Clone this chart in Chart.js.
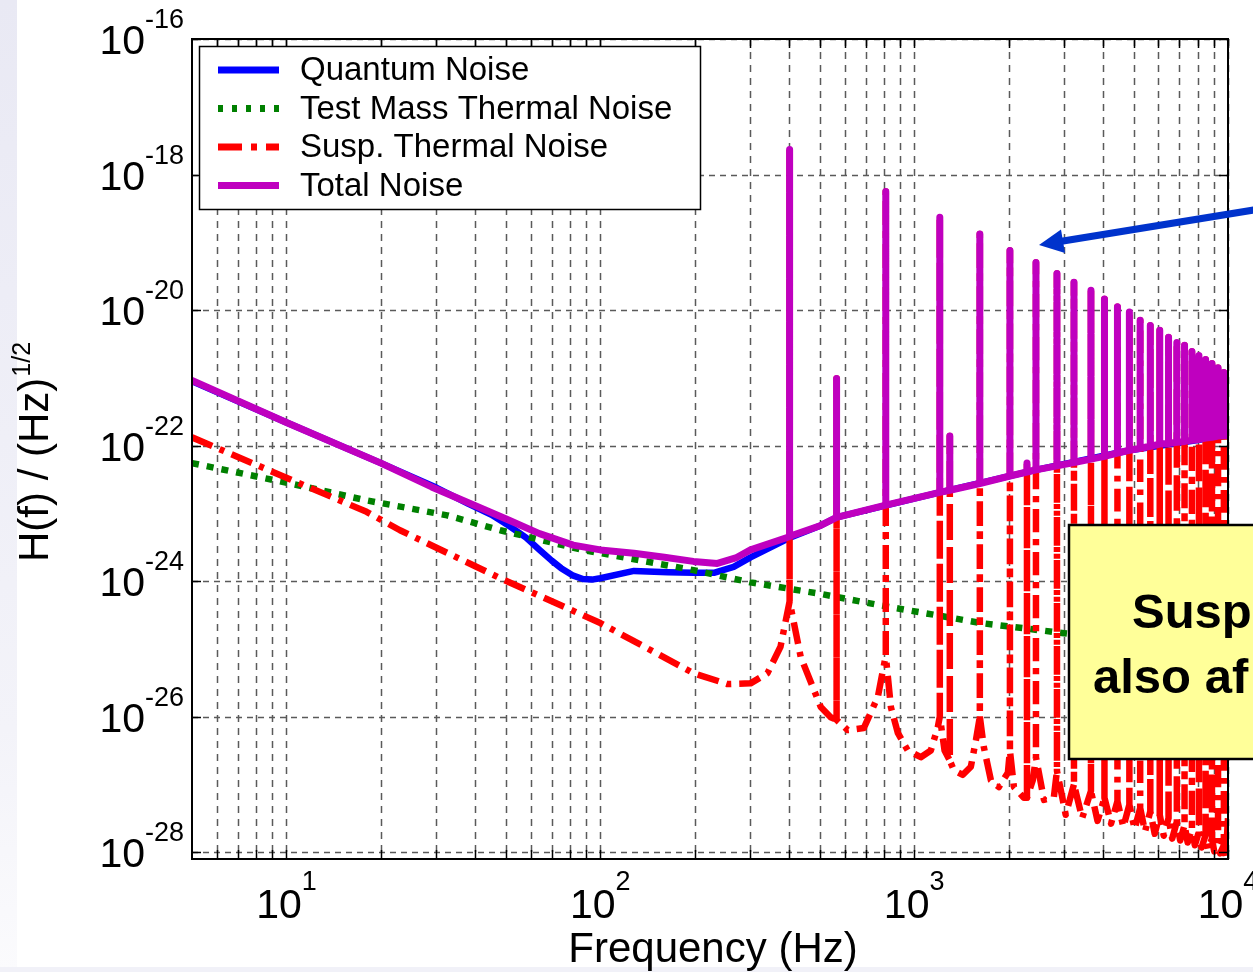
<!DOCTYPE html>
<html>
<head>
<meta charset="utf-8">
<script src="https://cdn.jsdelivr.net/npm/chart.js@4.4.1/dist/chart.umd.min.js"></script>
<style>
  html, body { margin: 0; padding: 0; background: #fff; overflow: hidden; }
  #wrap { position: relative; width: 1253px; height: 972px; }
  #band { position: absolute; left: 0; top: 0; width: 17px; height: 972px;
          background: linear-gradient(to bottom, #e9e9f4, #f3f3f9 75%, #fbfbfd); }
  #strip { position: absolute; left: 0; bottom: 0; width: 1253px; height: 5px; background: #f1f1f8; }
  canvas { position: absolute; left: 0; top: 0; }
</style>
</head>
<body>
<div id="wrap">
  <div id="band"></div>
  <div id="strip"></div>
  <canvas id="noiseChart" width="1253" height="972"></canvas>
</div>
<script>
// values (Hz, strain / sqrt(Hz))
const quantumFreq = [5, 10, 20, 30, 38, 45, 51, 58, 64, 70, 75, 82, 88, 94, 100, 128, 164, 198, 230, 266, 301, 398, 504, 566, 1207, 2444, 4875, 10000];
const quantumVal = [8.91e-22, 2.19e-22, 5.50e-23, 2.40e-23, 1.38e-23, 9.50e-24, 6.61e-24, 4.37e-24, 2.88e-24, 2.00e-24, 1.55e-24,
  1.20e-24, 1.07e-24, 1.05e-24, 1.10e-24, 1.41e-24, 1.35e-24,
  1.32e-24, 1.32e-24, 1.62e-24, 2.24e-24, 4.27e-24, 6.61e-24, 8.71e-24, 2.04e-23, 4.37e-23, 8.51e-23, 1.41e-22];

const testMassFreq = [5, 10.3, 18, 32.5, 48, 88, 198, 301, 504, 783, 1632, 3000, 10000];
const testMassVal = [5.50e-23, 2.75e-23, 1.55e-23, 9.33e-24, 5.62e-24, 2.88e-24, 1.45e-24, 9.55e-25, 6.46e-25, 4.37e-25, 2.40e-25, 1.70e-25, 9.55e-26];

// suspension thermal noise away from the resonance tips
const suspFreq = [5, 10.3, 18, 23, 48, 100, 198, 254, 301, 341, 375,
  401, 435, 504, 542, 566, 614, 691, 766, 812,
  843, 887, 954, 1050, 1130, 1189, 1207,
  1250, 1299, 1338, 1429, 1516, 1573, 1619,
  1667, 1756, 1862, 1989, 2019,
  2079, 2237, 2288, 2388, 2444,
  2592, 2787, 2851,
  3040, 3230, 3430, 3659, 3840, 4040, 4240, 4444, 4640, 4850,
  5040, 5250, 5440, 5655, 5840, 6060, 6240, 6465, 6640, 6870,
  7040, 7270, 7440, 7675, 7840, 8080, 8240, 8485, 8640, 8890,
  9040, 9295, 9440, 9700, 9840, 10000];
const suspVal = [1.32e-22, 3.16e-23, 1.05e-23, 5.62e-24, 1.10e-24, 2.40e-25, 4.37e-26, 3.02e-26, 3.09e-26, 4.37e-26, 1.07e-25,
  5.01e-25, 7.59e-26, 1.38e-26, 9.77e-27, 8.91e-27, 6.31e-27, 6.76e-27, 1.95e-26, 7.94e-26,
  1.38e-26, 5.75e-27, 3.16e-27, 2.51e-27, 3.16e-27, 6.92e-27, 1.00e-26,
  3.16e-27, 2.24e-27, 1.62e-27, 1.38e-27, 1.82e-27, 4.47e-27, 1.00e-26,
  3.55e-27, 1.15e-27, 9.12e-28, 1.48e-27, 3.16e-27,
  9.12e-28, 6.31e-28, 6.31e-28, 1.15e-27, 2.51e-27,
  5.89e-28, 6.46e-28, 1.58e-27,
  3.55e-28, 1.00e-27, 3.16e-28, 7.94e-28, 2.88e-28, 6.31e-28, 2.63e-28, 5.62e-28, 2.34e-28, 5.01e-28,
  2.19e-28, 4.47e-28, 2.00e-28, 3.98e-28, 1.86e-28, 3.55e-28, 1.74e-28, 3.16e-28, 1.58e-28, 2.82e-28,
  1.48e-28, 2.51e-28, 1.38e-28, 2.24e-28, 1.26e-28, 2.00e-28, 1.17e-28, 1.78e-28, 1.10e-28, 1.58e-28,
  1.02e-28, 1.41e-28, 9.55e-29, 1.26e-28, 8.71e-29, 3.16e-28];

// total noise floor (spike bases included)
const totalFreq = [5, 10, 20, 29, 40, 51, 64, 82, 100, 128, 160, 198, 236, 270, 301, 398,
  401, 504, 566, 812, 1207, 1299, 1619, 2019, 2288, 2444, 2851, 3230, 3659, 4040, 4444, 4850, 5250, 5655,
  6060, 6465, 6870, 7270, 7675, 8080, 8485, 8890, 9295, 9700, 10000];
const totalVal = [9.12e-22, 2.19e-22, 5.50e-23, 2.45e-23, 1.29e-23, 7.94e-24, 5.01e-24, 3.39e-24, 2.88e-24, 2.57e-24, 2.24e-24,
  1.95e-24, 1.82e-24, 2.19e-24, 2.88e-24, 4.47e-24,
  4.57e-24, 6.61e-24, 8.71e-24, 1.32e-23, 2.04e-23, 2.19e-23, 2.75e-23, 3.55e-23, 4.07e-23, 4.37e-23, 5.01e-23, 5.62e-23,
  6.31e-23, 6.92e-23, 7.76e-23, 8.51e-23, 9.12e-23, 9.77e-23, 1.05e-22, 1.07e-22, 1.12e-22, 1.15e-22, 1.20e-22, 1.23e-22,
  1.29e-22, 1.32e-22, 1.38e-22, 1.41e-22, 1.41e-22];

// violin mode resonances: frequency and tip height
const peakFreq = [401, 566, 812, 1207, 1299, 1619, 2019, 2288, 2444, 2851, 3230, 3659, 4040, 4444, 4850, 5250, 5655,
  6060, 6465, 6870, 7270, 7675, 8080, 8485, 8890, 9295, 9700];
const peakVal = [2.34e-18, 9.77e-22, 5.62e-19, 2.34e-19, 1.38e-22, 1.32e-19, 7.59e-20, 5.50e-23, 5.01e-20, 3.47e-20,
  2.57e-20, 1.95e-20, 1.45e-20, 1.12e-20, 9.33e-21, 7.08e-21, 5.89e-21, 5.01e-21, 3.98e-21, 3.31e-21, 3.02e-21,
  2.45e-21, 2.14e-21, 1.86e-21, 1.62e-21, 1.41e-21, 1.20e-21];

const xTickVals = [10, 100, 1000, 10000];
const xTickExp = ['1', '2', '3', '4'];
const yTickVals = [1e-28, 1e-26, 1e-24, 1e-22, 1e-20, 1e-18, 1e-16];
const yTickExp = ['-28', '-26', '-24', '-22', '-20', '-18', '-16'];

const FONT = '"Liberation Sans", Arial, Helvetica, sans-serif';

function pts(freqs, vals) {
  return freqs.map((f, i) => ({ x: f, y: vals[i] }));
}

// base curve with a spike up to the tip at each resonance frequency
function withPeaks(freqs, vals) {
  const out = [];
  freqs.forEach((f, i) => {
    out.push({ x: f, y: vals[i] });
    const k = peakFreq.indexOf(f);
    if (k >= 0) out.push({ x: f, y: peakVal[k] }, { x: f, y: vals[i] });
  });
  return out;
}

// minor grid positions for the log x axis
const xGrid = [];
[1, 10, 100, 1000].forEach(d => {
  for (let m = 1; m <= 9; m++) {
    const v = m * d;
    if (v > 5 && v <= 10000) xGrid.push(v);
  }
});
xGrid.push(10000);

function drawLegend(ctx, chart) {
  const rows = [0, 1, 2, 3].map(i => chart.data.datasets[i]);
  ctx.save();
  ctx.fillStyle = '#fff';
  ctx.fillRect(199, 46, 501, 163);
  ctx.strokeStyle = '#000';
  ctx.lineWidth = 1.5;
  ctx.strokeRect(199.5, 46.5, 501, 163);
  rows.forEach((ds, i) => {
    const yy = 70 + i * 38.5;
    ctx.beginPath();
    ctx.setLineDash(ds.legendDash || []);
    ctx.strokeStyle = ds.borderColor;
    ctx.lineWidth = 7;
    ctx.lineCap = 'butt';
    ctx.moveTo(218, yy);
    ctx.lineTo(279, yy);
    ctx.stroke();
    ctx.setLineDash([]);
    ctx.fillStyle = '#000';
    ctx.font = '33px ' + FONT;
    ctx.textBaseline = 'middle';
    ctx.textAlign = 'left';
    ctx.fillText(ds.label, 300, yy + 1);
  });
  ctx.restore();
}

const frame = {
  id: 'frame',
  beforeDatasetsDraw(chart) {
    const { ctx, chartArea: a, scales: { x, y } } = chart;
    ctx.save();
    ctx.fillStyle = '#fff';
    ctx.fillRect(a.left, a.top, a.right - a.left, a.bottom - a.top);
    ctx.strokeStyle = '#5a5a5a';
    ctx.lineWidth = 1.5;
    ctx.setLineDash([7, 6]);
    xGrid.forEach(v => {
      const px = Math.round(x.getPixelForValue(v)) + 0.5;
      ctx.beginPath(); ctx.moveTo(px, a.top); ctx.lineTo(px, a.bottom); ctx.stroke();
    });
    ctx.setLineDash([6, 5]);
    yTickVals.forEach(v => {
      const py = Math.round(y.getPixelForValue(v)) + 0.5;
      ctx.beginPath(); ctx.moveTo(a.left, py); ctx.lineTo(a.right, py); ctx.stroke();
    });
    ctx.restore();
  },
  afterDatasetsDraw(chart) {
    const { ctx, chartArea: a, scales: { x, y } } = chart;
    ctx.save();
    // axes box and inward ticks
    ctx.strokeStyle = '#000';
    ctx.lineWidth = 1.5;
    xGrid.forEach(v => {
      const px = Math.round(x.getPixelForValue(v)) + 0.5;
      ctx.beginPath();
      ctx.moveTo(px, a.bottom); ctx.lineTo(px, a.bottom - 9);
      ctx.moveTo(px, a.top); ctx.lineTo(px, a.top + 9);
      ctx.stroke();
    });
    yTickVals.forEach(v => {
      const py = Math.round(y.getPixelForValue(v)) + 0.5;
      ctx.beginPath();
      ctx.moveTo(a.left, py); ctx.lineTo(a.left + 9, py);
      ctx.moveTo(a.right, py); ctx.lineTo(a.right - 9, py);
      ctx.stroke();
    });
    ctx.lineWidth = 2;
    ctx.strokeRect(a.left, a.top, a.right - a.left, a.bottom - a.top);

    // tick labels 10^n
    ctx.fillStyle = '#000';
    ctx.textBaseline = 'alphabetic';
    yTickVals.forEach((v, i) => {
      const py = y.getPixelForValue(v);
      ctx.font = '41px ' + FONT;
      ctx.textAlign = 'right';
      ctx.fillText('10', 145, py + 15);
      ctx.font = '27px ' + FONT;
      ctx.textAlign = 'left';
      ctx.fillText(yTickExp[i], 145, py - 11);
    });
    xTickVals.forEach((v, i) => {
      const px = x.getPixelForValue(v);
      ctx.font = '41px ' + FONT;
      const w1 = ctx.measureText('10').width;
      ctx.font = '27px ' + FONT;
      const w2 = ctx.measureText(xTickExp[i]).width;
      const x0 = px - (w1 + w2) / 2;
      ctx.textAlign = 'left';
      ctx.font = '41px ' + FONT;
      ctx.fillText('10', x0, 918);
      ctx.font = '27px ' + FONT;
      ctx.fillText(xTickExp[i], x0 + w1, 890);
    });

    // axis titles
    ctx.font = '42px ' + FONT;
    ctx.textAlign = 'center';
    ctx.fillText('Frequency (Hz)', (a.left + a.right) / 2 + 3, 962);
    ctx.save();
    ctx.translate(48, 562);
    ctx.rotate(-Math.PI / 2);
    ctx.textAlign = 'left';
    ctx.font = '42px ' + FONT;
    const yl = 'H(f) / (Hz)';
    ctx.fillText(yl, 0, 0);
    const wl = ctx.measureText(yl).width;
    ctx.font = '25px ' + FONT;
    ctx.fillText('1/2', wl + 1, -18);
    ctx.restore();

    drawLegend(ctx, chart);

    // slide annotation: arrow to the violin modes and the yellow note
    ctx.fillStyle = '#0033cc';
    ctx.strokeStyle = '#0033cc';
    ctx.lineWidth = 7;
    ctx.lineCap = 'butt';
    ctx.beginPath();
    ctx.moveTo(1260, 209);
    ctx.lineTo(1060, 241.5);
    ctx.stroke();
    ctx.beginPath();
    ctx.moveTo(1039, 245);
    ctx.lineTo(1061, 229.5);
    ctx.lineTo(1065, 253);
    ctx.closePath();
    ctx.fill();

    ctx.fillStyle = '#ffff99';
    ctx.fillRect(1069, 525, 300, 234);
    ctx.strokeStyle = '#000';
    ctx.lineWidth = 2.5;
    ctx.strokeRect(1069, 525, 300, 234);
    ctx.fillStyle = '#000';
    ctx.font = 'bold 49px ' + FONT;
    ctx.textAlign = 'left';
    ctx.fillText('Susp', 1132, 628);
    ctx.fillText('also af', 1093, 693);
    ctx.restore();
  }
};

new Chart(document.getElementById('noiseChart'), {
  type: 'scatter',
  data: {
    datasets: [
      { label: 'Quantum Noise', data: pts(quantumFreq, quantumVal), showLine: true,
        borderColor: '#0000ff', borderWidth: 6.5, borderCapStyle: 'round', order: 4 },
      { label: 'Test Mass Thermal Noise', data: pts(testMassFreq, testMassVal), showLine: true,
        borderColor: '#008000', borderWidth: 6.5, borderDash: [7, 8], legendDash: [5, 9], order: 3 },
      { label: 'Susp. Thermal Noise', data: withPeaks(suspFreq, suspVal), showLine: true,
        borderColor: '#ff0000', borderWidth: 6.5, borderDash: [22, 8, 5, 8], legendDash: [24, 9, 6, 9], order: 2 },
      { label: 'Total Noise', data: withPeaks(totalFreq, totalVal), showLine: true,
        borderColor: '#bf00bf', borderWidth: 7, borderCapStyle: 'round', order: 1 }
    ]
  },
  options: {
    responsive: false,
    animation: false,
    events: [],
    elements: {
      point: { radius: 0 },
      line: { tension: 0, fill: false, borderJoinStyle: 'round' }
    },
    layout: { padding: { left: 0, top: 39, right: 25, bottom: 113 } },
    plugins: { legend: { display: false }, tooltip: { enabled: false } },
    scales: {
      x: {
        type: 'logarithmic', min: 5, max: 10000,
        ticks: { display: false }, grid: { display: false }, border: { display: false },
        afterFit: s => { s.height = 0; }
      },
      y: {
        type: 'logarithmic', min: 7.9e-29, max: 1e-16,
        ticks: { display: false }, grid: { display: false }, border: { display: false },
        afterFit: s => { s.width = 192; }
      }
    }
  },
  plugins: [frame]
});
</script>
</body>
</html>
